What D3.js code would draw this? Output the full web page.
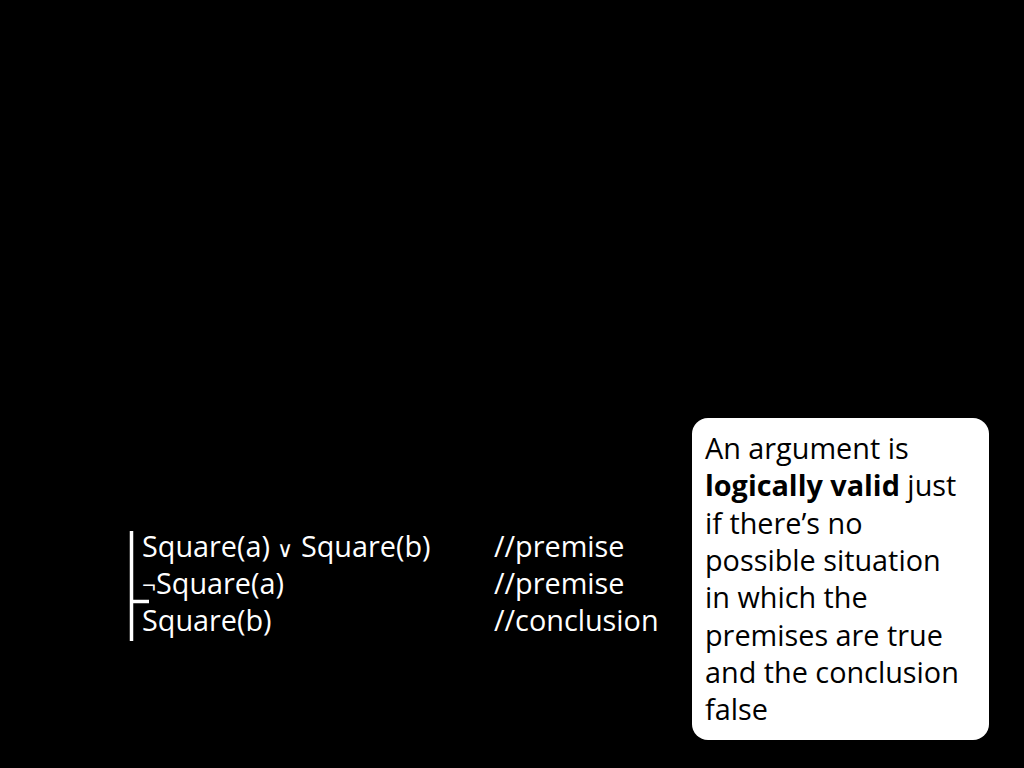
<!DOCTYPE html>
<html><head><meta charset="utf-8">
<script src="https://cdn.jsdelivr.net/npm/d3@7"></script>
<style>html,body{margin:0;padding:0;background:#000;}svg{display:block;}</style>
</head><body>
<script>
const formulas = [
  [{t:"Square(a) ", s:1},{t:"\u2228", s:0.75},{t:" Square(b)", s:1}],
  [{t:"\u00ac", s:0.85},{t:"Square(a)", s:1}],
  [{t:"Square(b)", s:1}]
];
const comments = ["//premise", "//premise", "//conclusion"];
const noteLines = [
  [{t:"An argument is", b:false}],
  [{t:"logically valid", b:true},{t:" just", b:false}],
  [{t:"if there\u2019s no", b:false}],
  [{t:"possible situation", b:false}],
  [{t:"in which the", b:false}],
  [{t:"premises are true", b:false}],
  [{t:"and the conclusion", b:false}],
  [{t:"false", b:false}]
];
const W = 1024, H = 768;
const svg = d3.select("body").append("svg").attr("width", W).attr("height", H);
svg.append("rect").attr("width", W).attr("height", H).attr("fill", "#000");
const font = "'Open Sans', 'Noto Sans', sans-serif";
const FS = 28.8;

const y = d3.scaleLinear().domain([0, 1]).range([557, 594]);
const g = svg.append("g");
const ft = g.selectAll("text.f").data(formulas).join("text").attr("class","f")
  .attr("x", 142).attr("y", (d,i)=>y(i))
  .attr("font-family", font).attr("font-size", FS).attr("fill", "#fff");
ft.selectAll("tspan").data(d=>d).join("tspan").attr("font-size", d=>FS*d.s).text(d=>d.t);
g.selectAll("text.c").data(comments).join("text").attr("class","c")
  .attr("x", 494).attr("y", (d,i)=>y(i))
  .attr("font-family", font).attr("font-size", FS).attr("fill", "#fff").text(d=>d);
// Fitch bar
g.append("line").attr("x1",131.5).attr("x2",131.5).attr("y1",531).attr("y2",641).attr("stroke","#fff").attr("stroke-width",3.5);
g.append("line").attr("x1",131).attr("x2",149).attr("y1",601.5).attr("y2",601.5).attr("stroke","#fff").attr("stroke-width",3.5);

// note box
svg.append("rect").attr("x",692).attr("y",418).attr("width",297).attr("height",322).attr("rx",16).attr("fill","#fff");
const ny = d3.scaleLinear().domain([0,1]).range([459, 496.3]);
const nt = svg.selectAll("text.n").data(noteLines).join("text").attr("class","n")
  .attr("x",705).attr("y",(d,i)=>ny(i))
  .attr("font-family", font).attr("font-size", FS).attr("fill","#000");
nt.selectAll("tspan").data(d=>d).join("tspan").attr("font-weight",d=>d.b?"bold":"normal").text(d=>d.t);
</script>
</body></html>
